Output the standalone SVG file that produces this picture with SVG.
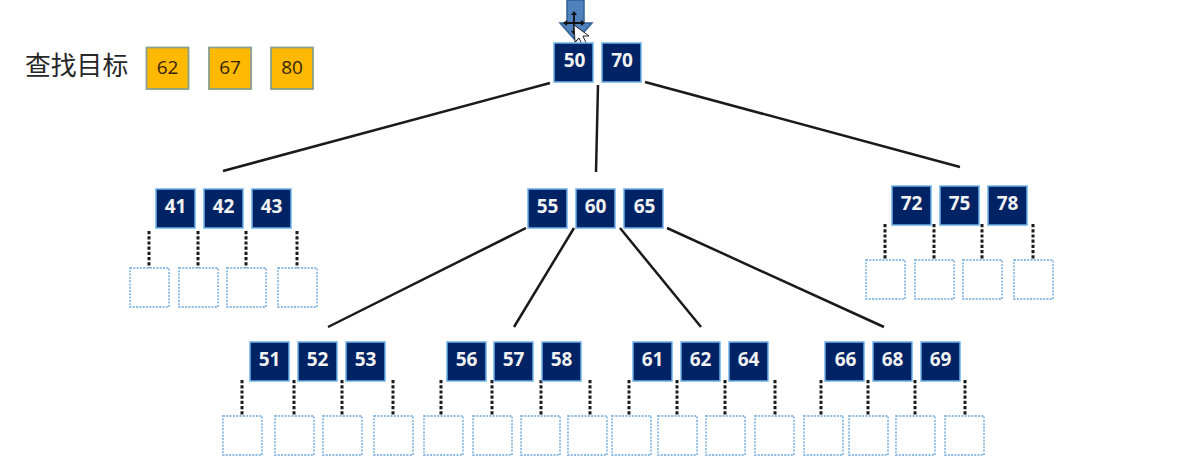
<svg xmlns="http://www.w3.org/2000/svg" width="1189" height="470" viewBox="0 0 1189 470">
<style>
.n{fill:#002366;stroke:#6fb2e8;stroke-width:1.5}
.nt{font:bold 19px "Open Sans","Liberation Sans",sans-serif;fill:#f2f2f2;text-anchor:middle}
.t{fill:#ffb900;stroke:#86a08a;stroke-width:1.8}
.tt{font:500 19px "Open Sans","Liberation Sans",Arial,sans-serif;fill:#33240a;text-anchor:middle}
.e{fill:#fff;stroke:#8dbbe3;stroke-width:1.8;stroke-dasharray:2 1.3}
.l{stroke:#1a1a1a;stroke-width:2.5;fill:none}
.d{stroke:#1a1a1a;stroke-width:3;fill:none;stroke-dasharray:3.200 2}
</style>
<rect width="1189" height="470" fill="#fff"/>
<text x="25" y="75" font-family="'Noto Sans CJK SC',sans-serif" font-size="25.800" fill="#262626">查找目标</text>
<g id="target-62"><rect class="t" x="146.500" y="47.500" width="42" height="41.500"/><text class="tt" x="167.500" y="74">62</text></g>
<g id="target-67"><rect class="t" x="209" y="47.500" width="42" height="41.500"/><text class="tt" x="230" y="74">67</text></g>
<g id="target-80"><rect class="t" x="271" y="47.500" width="42" height="41.500"/><text class="tt" x="292" y="74">80</text></g>
<g id="connectors">
<path class="l" d="M550 83L223 171M598 85L596 172M645 82L960 167M526 228L328 327M574 228L514 327M620 228L701 327M667 228L884 327"/>
<path class="d" d="M149 231V268M198 231V268M246 231V268M297 231V268M885 224V260M934 224V260M982 224V260M1033 224V260M242 380V416M294 380V416M342 380V416M393 380V416M441 380V416M492 380V416M541 380V416M590 380V416M629 380V416M677 380V416M725 380V416M775 380V416M821 380V416M868 380V416M915 380V416M965 380V416"/>
</g>
<g id="pointer">
<path d="M567 0H584V23H592L576 41L560 23H567Z" fill="#4f81bd" stroke="#2f5f95" stroke-width="1.500"/>
<path d="M574 15V32M566 23H583" stroke="#111" stroke-width="1.800" fill="none"/>
<path d="M571 15L574 11L577 15ZM571 31L574 35L577 31ZM567 20L563 23L567 26ZM581 20L585 23L581 26Z" fill="#111"/>
<path d="M574 25L575 42L579 38L583 47L587 45L583 36L589 36Z" fill="#fff" stroke="#222" stroke-width="1"/>
</g>
<g id="node-50"><rect class="n" x="554" y="43" width="39" height="39"/><text class="nt" x="574.500" y="67">50</text></g>
<g id="node-70"><rect class="n" x="602" y="43" width="39" height="39"/><text class="nt" x="622" y="67">70</text></g>
<g id="node-41"><rect class="n" x="156" y="189" width="39" height="39"/><text class="nt" x="175.500" y="213">41</text></g>
<g id="node-42"><rect class="n" x="204" y="189" width="39" height="39"/><text class="nt" x="223.500" y="213">42</text></g>
<g id="node-43"><rect class="n" x="252" y="189" width="39" height="39"/><text class="nt" x="271.500" y="213">43</text></g>
<g id="node-55"><rect class="n" x="528" y="189" width="39" height="39"/><text class="nt" x="547.500" y="213">55</text></g>
<g id="node-60"><rect class="n" x="576" y="189" width="39" height="39"/><text class="nt" x="595.500" y="213">60</text></g>
<g id="node-65"><rect class="n" x="624" y="189" width="39" height="39"/><text class="nt" x="644.500" y="213">65</text></g>
<g id="node-72"><rect class="n" x="892" y="186" width="39" height="39"/><text class="nt" x="911.500" y="210">72</text></g>
<g id="node-75"><rect class="n" x="940" y="186" width="39" height="39"/><text class="nt" x="959.500" y="210">75</text></g>
<g id="node-78"><rect class="n" x="988" y="186" width="39" height="39"/><text class="nt" x="1007.500" y="210">78</text></g>
<g id="node-51"><rect class="n" x="250" y="342" width="39" height="39"/><text class="nt" x="269.500" y="366">51</text></g>
<g id="node-52"><rect class="n" x="298" y="342" width="39" height="39"/><text class="nt" x="317.500" y="366">52</text></g>
<g id="node-53"><rect class="n" x="346" y="342" width="39" height="39"/><text class="nt" x="365.500" y="366">53</text></g>
<g id="node-56"><rect class="n" x="447" y="342" width="39" height="39"/><text class="nt" x="466.500" y="366">56</text></g>
<g id="node-57"><rect class="n" x="494" y="342" width="39" height="39"/><text class="nt" x="513.500" y="366">57</text></g>
<g id="node-58"><rect class="n" x="542" y="342" width="39" height="39"/><text class="nt" x="561.500" y="366">58</text></g>
<g id="node-61"><rect class="n" x="633" y="342" width="39" height="39"/><text class="nt" x="652.500" y="366">61</text></g>
<g id="node-62"><rect class="n" x="681" y="342" width="39" height="39"/><text class="nt" x="700.500" y="366">62</text></g>
<g id="node-64"><rect class="n" x="729" y="342" width="39" height="39"/><text class="nt" x="748.500" y="366">64</text></g>
<g id="node-66"><rect class="n" x="825" y="342" width="39" height="39"/><text class="nt" x="845.500" y="366">66</text></g>
<g id="node-68"><rect class="n" x="873" y="342" width="39" height="39"/><text class="nt" x="892.500" y="366">68</text></g>
<g id="node-69"><rect class="n" x="921" y="342" width="39" height="39"/><text class="nt" x="940.500" y="366">69</text></g>
<g id="leaf-a1"><rect class="e" x="130" y="268" width="39" height="39"/></g>
<g id="leaf-a2"><rect class="e" x="179" y="268" width="39" height="39"/></g>
<g id="leaf-a3"><rect class="e" x="227" y="268" width="39" height="39"/></g>
<g id="leaf-a4"><rect class="e" x="278" y="268" width="39" height="39"/></g>
<g id="leaf-b1"><rect class="e" x="866" y="260" width="39" height="39"/></g>
<g id="leaf-b2"><rect class="e" x="915" y="260" width="39" height="39"/></g>
<g id="leaf-b3"><rect class="e" x="963" y="260" width="39" height="39"/></g>
<g id="leaf-b4"><rect class="e" x="1014" y="260" width="39" height="39"/></g>
<g id="leaf-c1"><rect class="e" x="223" y="416" width="39" height="39"/></g>
<g id="leaf-c2"><rect class="e" x="275" y="416" width="39" height="39"/></g>
<g id="leaf-c3"><rect class="e" x="323" y="416" width="39" height="39"/></g>
<g id="leaf-c4"><rect class="e" x="374" y="416" width="39" height="39"/></g>
<g id="leaf-d1"><rect class="e" x="424" y="416" width="39" height="39"/></g>
<g id="leaf-d2"><rect class="e" x="473" y="416" width="39" height="39"/></g>
<g id="leaf-d3"><rect class="e" x="521" y="416" width="39" height="39"/></g>
<g id="leaf-d4"><rect class="e" x="568" y="416" width="39" height="39"/></g>
<g id="leaf-e1"><rect class="e" x="612" y="416" width="39" height="39"/></g>
<g id="leaf-e2"><rect class="e" x="658" y="416" width="39" height="39"/></g>
<g id="leaf-e3"><rect class="e" x="706" y="416" width="39" height="39"/></g>
<g id="leaf-e4"><rect class="e" x="755" y="416" width="39" height="39"/></g>
<g id="leaf-f1"><rect class="e" x="804" y="416" width="39" height="39"/></g>
<g id="leaf-f2"><rect class="e" x="849" y="416" width="39" height="39"/></g>
<g id="leaf-f3"><rect class="e" x="896" y="416" width="39" height="39"/></g>
<g id="leaf-f4"><rect class="e" x="945" y="416" width="39" height="39"/></g>
</svg>
